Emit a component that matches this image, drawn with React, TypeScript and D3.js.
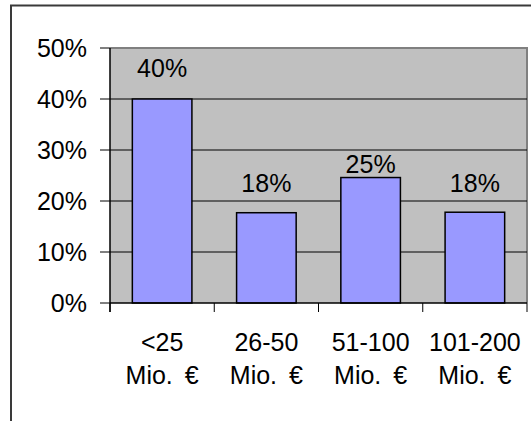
import React from "react";
import * as d3 from "d3";

// Share of companies by annual revenue band
const categories = ["<25 Mio. €", "26-50 Mio. €", "51-100 Mio. €", "101-200 Mio. €"];
const categoryLines = [
  ["<25", "Mio. €"],
  ["26-50", "Mio. €"],
  ["51-100", "Mio. €"],
  ["101-200", "Mio. €"],
];
const shares = [0.4, 0.177, 0.246, 0.178];
const yTicks = [0, 0.1, 0.2, 0.3, 0.4, 0.5];

const W = 531;
const H = 421;
const plot = { left: 110, right: 527, top: 48, bottom: 303 };
const FONT = "'Liberation Sans', Arial, Helvetica, sans-serif";
const FS = 25;
// vertical distance between a bar's top and its value label baseline
const labelLift = [22, 21, 5, 20];

export default function App() {
  const gap = 0.75 / 1.75;
  const x = d3
    .scaleBand<string>()
    .domain(categories)
    .range([plot.left, plot.right])
    .paddingInner(gap)
    .paddingOuter(gap / 2);
  const y = d3.scaleLinear().domain([0, 0.5]).range([plot.bottom, plot.top]);
  const pct = d3.format(".0%");
  const step = x.step();
  const boundaries = d3.range(categories.length + 1).map((i) => plot.left + i * step);

  return (
    <svg
      width={W}
      height={H}
      style={{ position: "absolute", left: 0, top: 0, background: "#fff" }}
      fontFamily={FONT}
    >
      {/* outer chart frame */}
      <rect x={11} y={5.5} width={700} height={700} fill="none" stroke="#3a3a3a" strokeWidth={2} />

      {/* plot area */}
      <rect
        x={plot.left}
        y={plot.top}
        width={plot.right - plot.left}
        height={plot.bottom - plot.top}
        fill="#C0C0C0"
      />
      <path
        d={`M${plot.left},${plot.top}H${plot.right}V${plot.bottom}`}
        fill="none"
        stroke="#808080"
        strokeWidth={2}
      />

      {/* gridlines */}
      {yTicks.slice(1, -1).map((t) => (
        <line key={t} x1={plot.left} x2={plot.right} y1={y(t)} y2={y(t)} stroke="#000" strokeWidth={1} />
      ))}

      {/* bars */}
      {categories.map((c, i) => (
        <rect
          key={c}
          x={x(c)}
          y={y(shares[i])}
          width={x.bandwidth()}
          height={y(0) - y(shares[i])}
          fill="#9999FF"
          stroke="#000"
          strokeWidth={1.5}
        />
      ))}

      {/* value labels */}
      {categories.map((c, i) => (
        <text
          key={c}
          x={(x(c) ?? 0) + x.bandwidth() / 2}
          y={y(shares[i]) - labelLift[i]}
          textAnchor="middle"
          fontSize={FS}
          fill="#000"
        >
          {pct(shares[i])}
        </text>
      ))}

      {/* y axis */}
      <line x1={plot.left} x2={plot.left} y1={plot.top} y2={plot.bottom + 9} stroke="#000" strokeWidth={1.5} />
      {yTicks.map((t) => (
        <g key={t}>
          <line x1={plot.left - 10} x2={plot.left} y1={y(t)} y2={y(t)} stroke="#000" strokeWidth={1} />
          <text x={87} y={y(t)} dy="0.35em" textAnchor="end" fontSize={FS} fill="#000">
            {pct(t)}
          </text>
        </g>
      ))}

      {/* x axis */}
      <line x1={plot.left} x2={plot.right} y1={plot.bottom} y2={plot.bottom} stroke="#000" strokeWidth={1.5} />
      {boundaries.map((bx, i) => (
        <line key={i} x1={bx} x2={bx} y1={plot.bottom} y2={plot.bottom + 9} stroke="#000" strokeWidth={1} />
      ))}
      {categories.map((c, i) => (
        <text key={c} textAnchor="middle" fontSize={FS} fill="#000" wordSpacing={5}>
          {categoryLines[i].map((line, j) => (
            <tspan key={j} x={(x(c) ?? 0) + x.bandwidth() / 2} y={351 + j * 33}>
              {line}
            </tspan>
          ))}
        </text>
      ))}
    </svg>
  );
}
